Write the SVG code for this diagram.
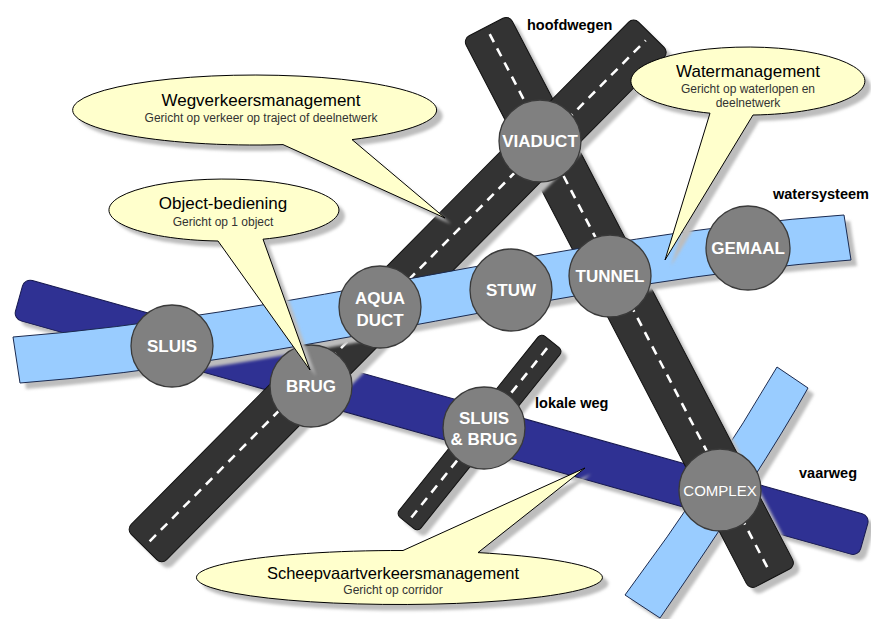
<svg xmlns="http://www.w3.org/2000/svg" width="871" height="619" viewBox="0 0 871 619">
<style>
.sh{fill:#bdbdbd;stroke:none;filter:url(#blur)}
.road{fill:#333333;stroke:#111;stroke-width:1}
.dash{stroke:#fff;stroke-width:2.6;stroke-dasharray:9 7;fill:none}
.dark{fill:#2f3193;stroke:#16184f;stroke-width:1}
.light{fill:#99ccff;stroke:#1a2a50;stroke-width:1}
.node circle{fill:#808080;stroke:#3a3a3a;stroke-width:1.3}
.node text{font-family:"Liberation Sans",Arial,sans-serif;font-weight:bold;font-size:17px;fill:#fff;text-anchor:middle}
.call{fill:#ffffcc;stroke:#000;stroke-width:1}
.ct{font-family:"Liberation Sans",Arial,sans-serif;font-size:17px;fill:#000;text-anchor:middle}
.cs{font-family:"Liberation Sans",Arial,sans-serif;font-size:12px;fill:#333;text-anchor:middle}
.lbl{font-family:"Liberation Sans",Arial,sans-serif;font-weight:bold;font-size:14.5px;fill:#000}
</style>
<defs>
<filter id="blur" x="-10%" y="-10%" width="120%" height="120%"><feGaussianBlur stdDeviation="1.5"/></filter>
<rect id="vwR" x="0" y="-21" width="878" height="42" rx="8"/>
<path id="lcR" d="M777,367 L808,388 Q762,470 660,618 L625,595 Q712,478 777,367 Z"/>
<rect id="lwR" x="0" y="-14" width="232" height="28" rx="5"/>
<rect id="rbR" x="0" y="-26" width="621" height="52" rx="7"/>
<rect id="raR" x="0" y="-25" width="721" height="50" rx="7"/>
<path id="wsR" d="M13,337 C290,316 567,234 844,215 L851,260 C574,280 297,362 20,383 Z"/>
<path id="c1" d="M283,144.6 L445,218 L352,139.6 A182 35 0 1 0 283,144.6 Z"/>
<path id="c2" d="M218,241 L310,370 L263,239.2 A115 31 0 1 0 218,241 Z"/>
<path id="c3" d="M710,113.2 L665,260 L753,115 A117 34 0 1 0 710,113.2 Z"/>
<path id="c4" d="M403,550.5 L585,468 L478,552.6 A203 27 0 1 1 403,550.5 Z"/>
</defs>
<rect width="871" height="619" fill="#fff"/>

<g id="vaarweg">
<use href="#vwR" class="sh" transform="translate(6,6) translate(19,298.5) rotate(15.7)"/>
<use href="#vwR" class="dark" transform="translate(19,298.5) rotate(15.7)"/>
</g>
<g id="watergang">
<use href="#lcR" class="sh" transform="translate(6,6)"/>
<use href="#lcR" class="light"/>
</g>
<g id="lokale-weg">
<use href="#lwR" class="sh" transform="translate(6,6) translate(407,523) rotate(-51.3)"/>
<g transform="translate(407,523) rotate(-51.3)">
<use href="#lwR" class="road"/>
<line class="dash" x1="7" y1="0" x2="225" y2="0"/>
</g>
</g>
<g id="hoofdweg-b">
<use href="#rbR" class="sh" transform="translate(6,6) translate(486,27) rotate(62.5)"/>
<g transform="translate(486,27) rotate(62.5)">
<use href="#rbR" class="road"/>
<line class="dash" x1="8" y1="0" x2="613" y2="0"/>
</g>
</g>
<g id="hoofdweg-a">
<use href="#raR" class="sh" transform="translate(6,6) translate(144,547) rotate(-45.28)"/>
<g transform="translate(144,547) rotate(-45.28)">
<use href="#raR" class="road"/>
<line class="dash" x1="8" y1="0" x2="713" y2="0"/>
</g>
</g>
<g id="watersysteem">
<use href="#wsR" class="sh" transform="translate(6,6)"/>
<use href="#wsR" class="light"/>
</g>

<g id="node-viaduct" class="node"><circle cx="540" cy="141" r="41"/><text x="540" y="147">VIADUCT</text></g>
<g id="node-aquaduct" class="node"><circle cx="380" cy="307" r="41"/><text x="380" y="304">AQUA</text><text x="380" y="326">DUCT</text></g>
<g id="node-brug" class="node"><circle cx="311" cy="386" r="41"/><text x="311" y="392">BRUG</text></g>
<g id="node-sluis" class="node"><circle cx="172" cy="346" r="41"/><text x="172" y="352">SLUIS</text></g>
<g id="node-stuw" class="node"><circle cx="511" cy="290" r="41"/><text x="511" y="296">STUW</text></g>
<g id="node-tunnel" class="node"><circle cx="610" cy="276" r="41"/><text x="610" y="282">TUNNEL</text></g>
<g id="node-gemaal" class="node"><circle cx="748" cy="248" r="42"/><text x="748" y="254">GEMAAL</text></g>
<g id="node-sluisbrug" class="node"><circle cx="484" cy="428" r="41"/><text x="484" y="424">SLUIS</text><text x="484" y="445">&amp; BRUG</text></g>
<g id="node-complex" class="node"><circle cx="720" cy="490" r="41"/><text x="720" y="496" style="font-weight:normal;font-size:15px">COMPLEX</text></g>

<g id="connectors">
<g id="callout-weg">
<use href="#c1" class="sh" transform="translate(6,6)"/>
<use href="#c1" class="call"/>
<text class="ct" x="261" y="106">Wegverkeersmanagement</text>
<text class="cs" x="261" y="122">Gericht op verkeer op traject of deelnetwerk</text>
</g>
<g id="callout-object">
<use href="#c2" class="sh" transform="translate(6,6)"/>
<use href="#c2" class="call"/>
<text class="ct" x="223" y="209">Object-bediening</text>
<text class="cs" x="223" y="226">Gericht op 1 object</text>
</g>
<g id="callout-water">
<use href="#c3" class="sh" transform="translate(6,6)"/>
<use href="#c3" class="call"/>
<text class="ct" x="748" y="77">Watermanagement</text>
<text class="cs" x="748" y="93">Gericht op waterlopen en</text>
<text class="cs" x="748" y="107">deelnetwerk</text>
</g>
<g id="callout-scheepvaart">
<use href="#c4" class="sh" transform="translate(6,6)"/>
<use href="#c4" class="call"/>
<text class="ct" x="393" y="579" style="font-size:16.5px">Scheepvaartverkeersmanagement</text>
<text class="cs" x="393" y="594">Gericht op corridor</text>
</g>
</g>

<g id="labels">
<text class="lbl" x="527" y="30">hoofdwegen</text>
<text class="lbl" x="773" y="199">watersysteem</text>
<text class="lbl" x="535" y="408">lokale weg</text>
<text class="lbl" x="799" y="478">vaarweg</text>
</g>
</svg>
